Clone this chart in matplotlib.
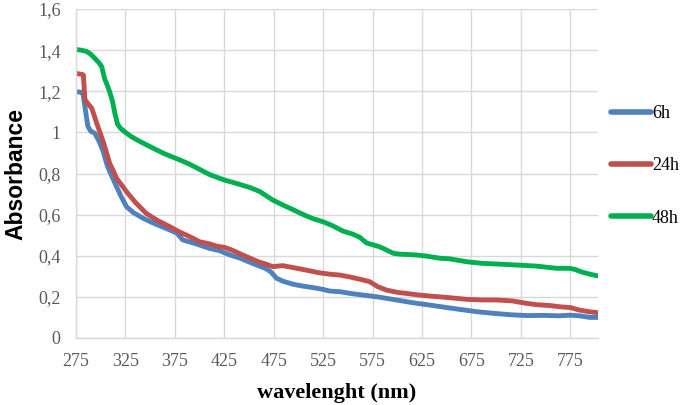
import matplotlib
matplotlib.use("Agg")
import matplotlib.pyplot as plt

# ---- data ----
wl_6h = [275, 280, 282, 284, 287, 290, 294, 298, 302, 307, 311, 316, 321, 326, 333, 343, 355, 370, 377, 383,
         395, 410, 420, 430, 441, 455, 466, 472, 478, 485, 495, 505, 515, 525, 532, 542, 555, 565, 580, 599,
         615, 633, 650, 665, 680, 697, 715, 731, 748, 764, 775, 784, 795, 803]
abs_6h = [1.198, 1.195, 1.19, 1.125, 1.03, 1.005, 0.996, 0.96, 0.914, 0.833, 0.79, 0.736, 0.685, 0.639, 0.61,
          0.582, 0.555, 0.525, 0.51, 0.477, 0.46, 0.436, 0.425, 0.405, 0.388, 0.36, 0.34, 0.322, 0.29, 0.275,
          0.261, 0.252, 0.245, 0.236, 0.228, 0.225, 0.215, 0.209, 0.2, 0.185, 0.172, 0.16, 0.148, 0.138, 0.128,
          0.12, 0.113, 0.109, 0.11, 0.108, 0.111, 0.108, 0.1, 0.1]

wl_24h = [275, 281, 282.5, 284, 287, 291, 296, 300, 303, 306, 309, 313, 316, 321, 326, 335, 346, 358, 370, 380,
          390, 400, 410, 417, 426, 434, 443, 451, 460, 468, 474, 484, 495, 508, 520, 532, 542, 552, 562, 572,
          580, 589, 600, 609, 620, 633, 653, 670, 686, 700, 717, 730, 741, 754, 764, 775, 784, 795, 803]
abs_24h = [1.287, 1.282, 1.279, 1.16, 1.14, 1.117, 1.044, 0.99, 0.947, 0.9, 0.85, 0.81, 0.777, 0.745, 0.712,
           0.66, 0.606, 0.57, 0.541, 0.515, 0.493, 0.468, 0.458, 0.447, 0.44, 0.425, 0.405, 0.388, 0.37, 0.358,
           0.347, 0.352, 0.342, 0.33, 0.318, 0.31, 0.306, 0.297, 0.286, 0.274, 0.25, 0.233, 0.222, 0.217, 0.21,
           0.204, 0.196, 0.188, 0.185, 0.185, 0.18, 0.169, 0.162, 0.158, 0.152, 0.148, 0.136, 0.127, 0.123]

wl_48h = [275, 280, 286, 290, 294, 298, 301, 304, 307, 309, 312, 314, 317, 320, 325, 331, 340, 353, 365, 380,
          390, 400, 410, 424, 435, 444, 452, 461, 468, 474, 485, 495, 505, 515, 525, 535, 545, 555, 562, 569,
          582, 596, 602, 619, 630, 643, 653, 670, 686, 700, 720, 740, 761, 774, 780, 786, 795, 803]
abs_48h = [1.403, 1.40, 1.393, 1.38, 1.36, 1.34, 1.32, 1.26, 1.225, 1.198, 1.15, 1.10, 1.04, 1.02, 1.0, 0.979,
           0.955, 0.923, 0.895, 0.866, 0.845, 0.82, 0.795, 0.77, 0.755, 0.742, 0.73, 0.712, 0.69, 0.671, 0.645,
           0.623, 0.6, 0.58, 0.565, 0.545, 0.52, 0.505, 0.49, 0.462, 0.444, 0.412, 0.408, 0.404, 0.398, 0.388,
           0.385, 0.371, 0.363, 0.36, 0.355, 0.35, 0.339, 0.339, 0.333, 0.322, 0.31, 0.302]

series_labels = ["6h", "24h", "48h"]
series_colors = ["#4F81BD", "#C0504D", "#00B050"]
x_ticks = [275, 325, 375, 425, 475, 525, 575, 625, 675, 725, 775]
y_ticks = [0, 0.2, 0.4, 0.6, 0.8, 1.0, 1.2, 1.4, 1.6]
y_tick_labels = ["0", "0,2", "0,4", "0,6", "0,8", "1", "1,2", "1,4", "1,6"]

# ---- figure ----
fig = plt.figure(figsize=(6.85, 4.05), dpi=100)
ax = fig.add_axes([76 / 685, 1 - 338 / 405, (598 - 76) / 685, (338 - 9) / 405])

data = [(wl_6h, abs_6h), (wl_24h, abs_24h), (wl_48h, abs_48h)]
for (x, y), lab, col in zip(data, series_labels, series_colors):
    ax.plot(x, y, color=col, lw=3.5, label=lab, solid_capstyle="round", solid_joinstyle="round")

ax.set_xlim(275, 803)
ax.set_ylim(0, 1.6)
ax.set_xticks(x_ticks)
ax.set_yticks(y_ticks)
ax.set_yticklabels(y_tick_labels)

grid_col = "#D9D9D9"
ax.grid(True, color=grid_col, lw=1.0)
ax.set_axisbelow(True)
for s in ["top", "right"]:
    ax.spines[s].set_visible(False)
for s in ["left", "bottom"]:
    ax.spines[s].set_color(grid_col)
    ax.spines[s].set_linewidth(1.0)

ax.tick_params(axis="both", length=0, colors="#595959", labelsize=13)
ax.tick_params(axis="x", pad=11)
ax.tick_params(axis="y", pad=11)
for t in ax.get_xticklabels() + ax.get_yticklabels():
    t.set_family("Liberation Serif")

ax.set_ylabel("Absorbance", family="Liberation Sans", fontweight="bold", fontsize=16.5)
ax.yaxis.set_label_coords(-0.094, 0.5)
ax.set_xlabel("wavelenght (nm)", family="Liberation Serif", fontweight="bold", fontsize=16, labelpad=9)

leg = fig.legend(loc="upper left", bbox_to_anchor=(604 / 685, 1 - 98 / 405), frameon=False,
                 prop={"family": "Liberation Serif", "size": 13}, handlelength=2.2,
                 handletextpad=0.05, labelspacing=1.95, borderaxespad=0)
for line in leg.get_lines():
    line.set_linewidth(4)

fig.savefig("out.png", dpi=100)
